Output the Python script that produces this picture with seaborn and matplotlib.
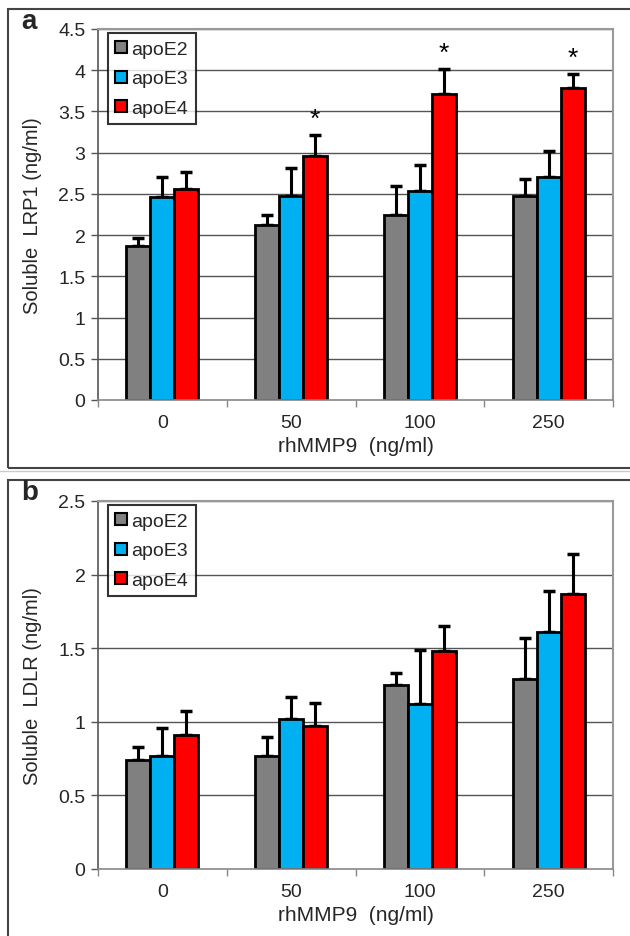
import numpy as np
import pandas as pd
import matplotlib
matplotlib.use("Agg")
import matplotlib.pyplot as plt
from matplotlib.lines import Line2D
from matplotlib.patches import Rectangle
import seaborn as sns

# Data
doses = ["0", "50", "100", "250"]
genotypes = ["apoE2", "apoE3", "apoE4"]
colors = ["#808080", "#00B0F0", "#FF0000"]

lrp1_e2 = [1.87, 2.12, 2.25, 2.47]
lrp1_e3 = [2.46, 2.48, 2.54, 2.70]
lrp1_e4 = [2.56, 2.96, 3.71, 3.78]
lrp1_err_e2 = [0.10, 0.12, 0.35, 0.21]
lrp1_err_e3 = [0.25, 0.33, 0.31, 0.32]
lrp1_err_e4 = [0.20, 0.26, 0.31, 0.18]
lrp1_sig_e4 = [False, True, True, True]

ldlr_e2 = [0.74, 0.77, 1.25, 1.29]
ldlr_e3 = [0.77, 1.02, 1.12, 1.61]
ldlr_e4 = [0.91, 0.97, 1.48, 1.87]
ldlr_err_e2 = [0.09, 0.13, 0.08, 0.28]
ldlr_err_e3 = [0.19, 0.15, 0.37, 0.28]
ldlr_err_e4 = [0.16, 0.16, 0.17, 0.27]

sns.set_style("white")
plt.rcParams["font.family"] = ["Liberation Sans", "DejaVu Sans"]

W, H = 630, 937
fig = plt.figure(figsize=(W / 100, H / 100), dpi=100)


def fx(px):
    return px / W


def fy(py):
    return 1 - py / H


def panel(ax, means, errs, ymax, ylabel, sig=None):
    df = pd.DataFrame({
        "dose": np.tile(doses, 3),
        "geno": np.repeat(genotypes, 4),
        "value": np.concatenate(means),
    })
    ax.set_axisbelow(True)
    for yv in np.arange(0.5, ymax + 0.01, 0.5):
        ax.axhline(yv, color="#555555", lw=1.0, zorder=0)
    sns.barplot(data=df, x="dose", y="value", hue="geno", order=doses,
                hue_order=genotypes, palette=colors, width=0.56,
                edgecolor="black", linewidth=2, errorbar=None,
                legend=False, ax=ax, zorder=2, saturation=1)
    bars = [p for p in ax.patches if isinstance(p, Rectangle)][:12]
    for gi in range(3):
        for ci in range(4):
            p = bars[gi * 4 + ci]
            xc = p.get_x() + p.get_width() / 2
            top = p.get_height()
            e = errs[gi][ci]
            ax.errorbar([xc], [top], yerr=[[0], [e]], fmt="none",
                        ecolor="black", elinewidth=2.2, capsize=4,
                        capthick=2.5, zorder=1)
            if sig is not None and gi == 2 and sig[ci]:
                ax.text(xc, top + e + ymax * 0.01, "*", ha="center",
                        va="bottom", fontsize=19, color="black")
    ax.set_xlim(-0.5, 3.5)
    ax.set_ylim(0, ymax)
    ax.set_yticks(np.arange(0, ymax + 0.01, 0.5))
    ax.set_yticklabels([f"{v:g}" for v in np.arange(0, ymax + 0.01, 0.5)],
                       fontsize=14)
    ax.set_xticks([-0.5, 0.5, 1.5, 2.5, 3.5])
    ax.set_xticklabels([])
    ax.set_xticks(range(4), minor=True)
    ax.set_xticklabels(doses, minor=True, fontsize=14)
    ax.tick_params(axis="x", which="major", direction="out", length=5,
                   width=1, color="#888888", bottom=True)
    ax.tick_params(axis="x", which="minor", length=0, pad=10)
    ax.tick_params(axis="y", direction="out", length=5, width=1,
                   color="#555555", left=True, pad=4)
    ax.set_xlabel("rhMMP9  (ng/ml)", fontsize=15, labelpad=4)
    ax.set_ylabel(ylabel, fontsize=14.5, labelpad=12)
    ax.spines["left"].set_color("#555555")
    ax.spines["left"].set_linewidth(1.2)
    ax.spines["bottom"].set_color("#888888")
    ax.spines["bottom"].set_linewidth(1.2)
    for side in ["top", "right"]:
        ax.spines[side].set_color("#999999")
        ax.spines[side].set_linewidth(1.5)
    handles = [Line2D([], [], marker="s", linestyle="none", markersize=8,
                      markerfacecolor=c, markeredgecolor="black",
                      markeredgewidth=1.5) for c in colors]
    leg = ax.legend(handles, genotypes, loc="upper left",
                    bbox_to_anchor=(0.019, 0.99), fontsize=14,
                    frameon=True, fancybox=False, handlelength=0.55,
                    handletextpad=0.25, labelspacing=0.6,
                    borderpad=0.4, borderaxespad=0)
    leg.get_frame().set_edgecolor("black")
    leg.get_frame().set_linewidth(1.5)


# Panel a: soluble LRP1
ax_a = fig.add_axes([fx(98), fy(401), fx(613 - 98), (401 - 30) / H])
panel(ax_a, [lrp1_e2, lrp1_e3, lrp1_e4],
      [lrp1_err_e2, lrp1_err_e3, lrp1_err_e4], 4.5,
      "Soluble  LRP1 (ng/ml)", sig=lrp1_sig_e4)

# Panel b: soluble LDLR
ax_b = fig.add_axes([fx(98), fy(870), fx(613 - 98), (870 - 502) / H])
panel(ax_b, [ldlr_e2, ldlr_e3, ldlr_e4],
      [ldlr_err_e2, ldlr_err_e3, ldlr_err_e4], 2.5,
      "Soluble  LDLR (ng/ml)")

# Outer frames around each panel
fig.patches.append(Rectangle((fx(7.5), fy(469)), fx(640 - 7.5), (469 - 10) / H,
                             transform=fig.transFigure, fill=False,
                             edgecolor="#444444", lw=1.5))
fig.patches.append(Rectangle((fx(7.5), fy(960)), fx(640 - 7.5), (960 - 481) / H,
                             transform=fig.transFigure, fill=False,
                             edgecolor="#444444", lw=1.5))
fig.add_artist(Line2D([0, 1], [fy(471.5), fy(471.5)], transform=fig.transFigure,
                      color="#cccccc", lw=1.0))

fig.text(fx(21), fy(29), "a", fontsize=20, fontweight="bold", ha="left",
         va="baseline")
fig.text(fx(21), fy(500), "b", fontsize=20, fontweight="bold", ha="left",
         va="baseline")

fig.savefig("out.png", dpi=100)
